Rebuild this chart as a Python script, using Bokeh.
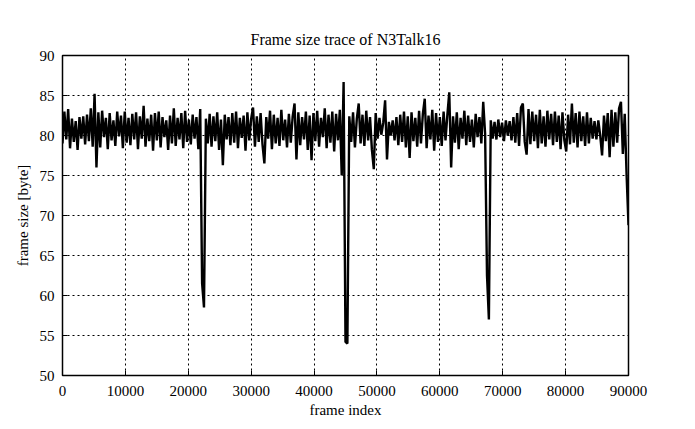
import numpy as np
from bokeh.plotting import figure
from bokeh.models import FixedTicker, Range1d, ColumnDataSource
from bokeh.embed import file_html
from bokeh.resources import INLINE

frame_step = 300
frame_size = [
    79.0, 83.0, 79.5, 83.3, 78.4, 82.1, 79.2, 81.8, 78.2, 82.3,
    79.6, 82.4, 78.9, 82.6, 79.3, 83.4, 78.6, 85.2, 76.0, 82.9,
    78.5, 83.1, 79.8, 82.2, 78.3, 82.8, 79.4, 81.9, 78.7, 83.0,
    79.9, 82.5, 78.4, 83.0, 79.1, 82.2, 78.8, 82.7, 79.5, 82.9,
    78.3, 82.4, 79.6, 83.7, 78.6, 82.1, 79.3, 82.6, 78.1, 82.8,
    79.4, 83.0, 78.5, 82.3, 79.8, 81.9, 78.2, 82.5, 79.0, 83.4,
    78.7, 82.2, 79.5, 82.8, 78.4, 83.1, 79.2, 82.0, 78.9, 82.6,
    79.6, 82.3, 78.3, 83.3, 61.5, 58.5, 82.1, 79.0, 82.7, 78.6,
    82.4, 79.3, 82.9, 78.2, 82.0, 76.3, 82.6, 79.5, 82.3, 78.8,
    82.8, 79.1, 83.0, 78.4, 82.2, 79.7, 82.5, 78.1, 82.9, 79.4,
    82.1, 83.5, 78.6, 82.4, 79.2, 82.8, 78.9, 76.5, 82.3, 79.6,
    83.1, 78.3, 82.6, 79.0, 82.2, 78.7, 83.2, 79.4, 82.0, 78.5,
    82.7, 79.1, 82.4, 84.0, 77.0, 82.9, 78.8, 82.3, 79.5, 83.0,
    78.2, 82.5, 76.9, 82.8, 79.3, 83.1, 78.6, 82.2, 79.8, 83.4,
    78.4, 82.6, 79.1, 83.0, 78.0, 82.7, 79.4, 83.2, 75.0, 86.7,
    54.2, 54.0, 82.4, 79.2, 82.9, 78.5, 82.1, 84.0, 79.0, 82.6,
    78.7, 83.1, 79.4, 82.3, 78.2, 75.8, 82.8, 79.6, 82.2, 80.1,
    81.6, 84.4, 77.0, 81.7, 80.0, 81.9, 79.4, 82.3, 78.8, 82.6,
    79.2, 83.0, 78.5, 82.4, 77.2, 82.9, 79.3, 82.2, 78.6, 83.1,
    79.0, 82.7, 84.6, 78.4, 82.5, 79.5, 83.2, 78.1, 82.8, 79.2,
    82.3, 78.7, 83.0, 79.4, 82.6, 85.4, 76.0, 82.4, 79.1, 82.9,
    78.3, 82.2, 79.6, 83.1, 78.8, 82.5, 79.2, 82.0, 78.5, 82.7,
    79.8, 82.3, 79.0, 84.2, 80.2, 62.5, 57.0, 81.9, 79.6, 81.7,
    79.5, 82.0, 79.8, 81.6, 79.3, 81.9, 80.0, 81.8, 79.4, 82.3,
    79.1, 82.8, 78.7, 83.5, 84.0, 79.2, 77.6, 83.3, 78.9, 83.0,
    79.3, 82.6, 78.4, 83.2, 79.0, 82.4, 78.6, 83.1, 79.5, 82.7,
    78.8, 83.0, 79.2, 82.5, 78.3, 82.9, 79.4, 78.0, 82.6, 78.9,
    84.0, 79.1, 82.8, 78.5, 83.0, 79.3, 82.4, 78.7, 82.9, 79.0,
    82.2, 79.6, 81.8, 79.5, 81.9, 80.0, 77.5, 82.5, 79.3, 82.8,
    77.3, 83.2, 78.6, 82.9, 79.1, 83.4, 84.2, 77.7, 82.7, 75.0,
    68.8,
]
x_ticks = [0, 10000, 20000, 30000, 40000, 50000, 60000, 70000, 80000, 90000]
y_ticks = [50, 55, 60, 65, 70, 75, 80, 85, 90]

frames = np.arange(len(frame_size)) * frame_step
src = ColumnDataSource(dict(x=frames, y=frame_size))

FONT = "Liberation Serif"

p = figure(frame_width=566, frame_height=320, output_backend="svg",
           toolbar_location=None, title="Frame size trace of N3Talk16",
           x_range=Range1d(0, 90000), y_range=Range1d(50, 90),
           min_border_left=62, min_border_right=51,
           min_border_top=55, min_border_bottom=38)

p.title.align = "center"
p.title.text_font = FONT
p.title.text_font_size = "16px"
p.title.text_font_style = "normal"
p.title.text_color = "black"
p.title.standoff = 16

p.line("x", "y", source=src, line_color="black", line_width=2.4,
       line_join="bevel")

for ax in (p.xaxis[0], p.yaxis[0]):
    ax.axis_line_color = None
    ax.major_tick_in = 5
    ax.major_tick_out = 0
    ax.minor_tick_line_color = None
    ax.major_tick_line_color = "black"
    ax.major_label_text_font = FONT
    ax.major_label_text_font_size = "15px"
    ax.major_label_text_color = "black"
    ax.axis_label_text_font = FONT
    ax.axis_label_text_font_size = "15px"
    ax.axis_label_text_font_style = "normal"
    ax.axis_label_text_color = "black"

p.xaxis[0].ticker = FixedTicker(ticks=x_ticks)
p.yaxis[0].ticker = FixedTicker(ticks=y_ticks)
p.xaxis[0].axis_label = "frame index"
p.yaxis[0].axis_label = "frame size [byte]"
p.xaxis[0].major_label_standoff = 10
p.yaxis[0].major_label_standoff = 8
p.xaxis[0].axis_label_standoff = 3
p.yaxis[0].axis_label_standoff = 6

for g in (p.xgrid[0], p.ygrid[0]):
    g.grid_line_color = "black"
    g.grid_line_dash = "2 3"
    g.grid_line_width = 1
    g.grid_line_alpha = 1.0

p.outline_line_color = "black"
p.outline_line_width = 1.5
p.outline_line_alpha = 1.0
p.background_fill_color = "white"
p.border_fill_color = "white"

open("out.html", "w").write(file_html(p, INLINE))
